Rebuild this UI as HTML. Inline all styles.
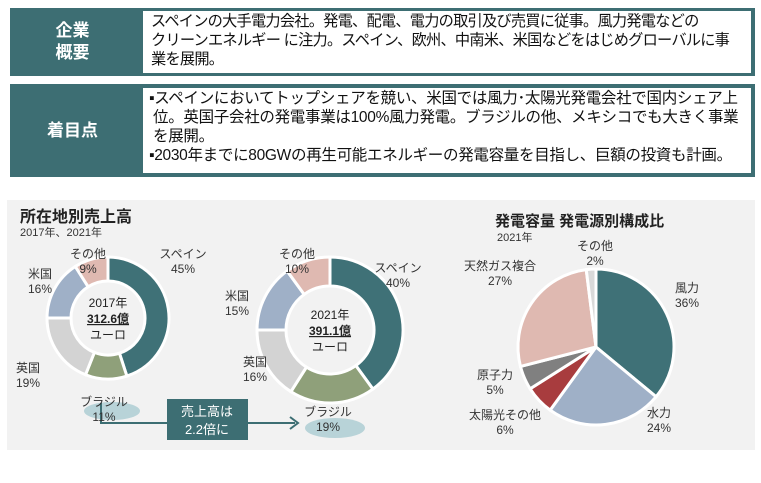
<!DOCTYPE html>
<html><head><meta charset="utf-8"><style>
body{margin:0;width:761px;height:483px;background:#fff;font-family:"Liberation Sans","Noto Sans CJK JP",sans-serif;position:relative;overflow:hidden}
.box{position:absolute;left:10px;width:745px;background:#3d6e73}
.lab{position:absolute;left:0;width:125px;color:#fff;font-weight:bold;font-size:17px;text-align:center;line-height:22px}
.txt{position:absolute;left:133px;right:4px;top:4px;bottom:4px;background:#fff;font-size:15.5px;line-height:19px;color:#111;padding:1px 8px;white-space:nowrap;letter-spacing:-0.3px;overflow:hidden}
svg text{font-family:"Liberation Sans","Noto Sans CJK JP",sans-serif}
</style></head><body>
<div class="box" style="top:8px;height:68px">
<div class="lab" style="top:12px">企業<br>概要</div>
<div class="txt" style="top:3px;bottom:3px;font-size:15.2px;letter-spacing:-0.75px">スペインの大手電力会社。発電、配電、電力の取引及び売買に従事。風力発電などの<br>クリーンエネルギー に注力。スペイン、欧州、中南米、米国などをはじめグローバルに事<br>業を展開。</div>
</div>
<div class="box" style="top:84px;height:93px">
<div class="lab" style="top:36px">着目点</div>
<div class="txt" style="padding-left:6px">▪スペインにおいてトップシェアを競い、米国では風力･太陽光発電会社で国内シェア上<br>&nbsp;位。英国子会社の発電事業は100%風力発電。ブラジルの他、メキシコでも大きく事業<br>&nbsp;を展開。<br>▪2030年までに80GWの再生可能エネルギーの発電容量を目指し、巨額の投資も計画。</div>
</div>
<svg id="c" width="761" height="483" style="position:absolute;left:0;top:0">
<rect x="7" y="200" width="748" height="250" fill="#f2f2f2"/>
<text x="20" y="222" font-size="16" font-weight="bold" fill="#222">所在地別売上高</text>
<text x="20" y="236" font-size="11" fill="#333">2017年、2021年</text>
<text x="495" y="226" font-size="15" font-weight="bold" fill="#222">発電容量 発電源別構成比</text>
<text x="497" y="241" font-size="11" fill="#333">2021年</text>
<ellipse cx="112" cy="411" rx="28" ry="9" fill="#b8d3d8"/>
<ellipse cx="335" cy="428" rx="30" ry="10" fill="#b8d3d8"/>
<polyline points="101,403 101,423 295,423" fill="none" stroke="#3d6e73" stroke-width="2"/>
<polyline points="290,417 298,423 290,429" fill="none" stroke="#3d6e73" stroke-width="2"/>
<rect x="167" y="399" width="81" height="41" fill="#3d6e73"/>
<text x="207" y="416" font-size="13" fill="#fff" text-anchor="middle">売上高は</text>
<text x="207" y="434" font-size="13" fill="#fff" text-anchor="middle">2.2倍に</text>
<g id="g"></g>
</svg>
<script>
const regions=['スペイン','ブラジル','英国','米国','その他'];
const sales2017=[45,11,19,16,9];
const sales2021=[40,19,16,15,10];
const sources=['風力','水力','太陽光その他','原子力','天然ガス複合','その他'];
const capacity2021=[36,24,6,5,27,2];
const regionColors=['#3f7177','#8fa07a','#d3d3d3','#9fb0c7','#dfb9b1'];
const sourceColors=['#3f7177','#9fb0c7','#a83c3e','#808080','#dfb9b1','#d9d9d9'];
const NS='http://www.w3.org/2000/svg',g=document.getElementById('g');
function pt(cx,cy,r,a){return [cx+r*Math.sin(a),cy-r*Math.cos(a)];}
function arc(cx,cy,R,r,a0,a1){const L=(a1-a0)>Math.PI?1:0;const p1=pt(cx,cy,R,a0),p2=pt(cx,cy,R,a1);
 if(r<=0)return `M${cx},${cy}L${p1}A${R},${R} 0 ${L} 1 ${p2}Z`;
 const p3=pt(cx,cy,r,a1),p4=pt(cx,cy,r,a0);return `M${p1}A${R},${R} 0 ${L} 1 ${p2}L${p3}A${r},${r} 0 ${L} 0 ${p4}Z`;}
function draw(vals,colors,cx,cy,R,r,name,sw){const tot=vals.reduce((a,b)=>a+b,0);let a=0;
 vals.forEach((v,i)=>{const a1=a+v/tot*2*Math.PI;const p=document.createElementNS(NS,'path');
 p.setAttribute('d',arc(cx,cy,R,r,a,a1));p.setAttribute('fill',colors[i]);p.setAttribute('stroke','#fff');p.setAttribute('stroke-width',sw);
 
 
 g.appendChild(p);a=a1;});}
function label(x,y,lines,name){lines.forEach((s,i)=>{const t=document.createElementNS(NS,'text');t.setAttribute('x',x);t.setAttribute('y',y+i*15);
 t.setAttribute('font-size','12');t.setAttribute('fill','#333');t.setAttribute('text-anchor','middle');t.textContent=s;
 
 
 g.appendChild(t);});}
draw(sales2017,regionColors,108,318,61,37,'sales-2017',3);
draw(sales2021,regionColors,330,330,73,44,'sales-2021',3);
draw(capacity2021,sourceColors,596,347,78,0,'capacity',3);
const L17=[[183,258],[104,406],[28,372],[40,278],[88,258]];
L17.forEach((p,i)=>label(p[0],p[1],[regions[i],sales2017[i]+'%'],'label-2017-'+i));
const L21=[[398,272],[328,416],[255,366],[237,300],[297,258]];
L21.forEach((p,i)=>label(p[0],p[1],[regions[i],sales2021[i]+'%'],'label-2021-'+i));
const LC=[[687,292],[659,417],[505,419],[495,379],[500,270],[595,250]];
LC.forEach((p,i)=>label(p[0],p[1],[sources[i],capacity2021[i]+'%'],'label-capacity-'+i));
[[108,307,'2017年',false],[108,323,'312.6億',true],[108,339,'ユーロ',false],[330,319,'2021年',false],[330,335,'391.1億',true],[330,351,'ユーロ',false]].forEach((c,i)=>{
 const t=document.createElementNS(NS,'text');t.setAttribute('x',c[0]);t.setAttribute('y',c[1]);t.setAttribute('font-size','12');t.setAttribute('text-anchor','middle');t.setAttribute('fill','#222');
 if(c[3]){t.setAttribute('font-weight','bold');t.setAttribute('text-decoration','underline');}
 t.textContent=c[2];
 
 
 g.appendChild(t);});
</script>
</body></html>
